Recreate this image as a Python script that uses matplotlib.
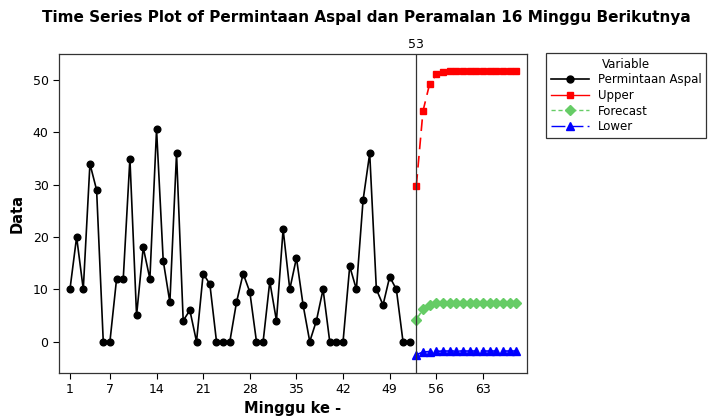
import numpy as np
import matplotlib.pyplot as plt
from matplotlib.lines import Line2D

# ---- Data ----
weeks = list(range(1, 53))
permintaan = [10, 20, 10, 34, 29, 0, 0, 12, 12, 35,
              5, 18, 12, 40.6, 15.5, 7.5, 36, 4, 6, 0,
              13, 11, 0, 0, 0, 7.5, 13, 9.5, 0, 0,
              11.5, 4, 21.5, 10, 16, 7, 0, 4, 10, 0,
              0, 0, 14.4, 10, 27, 36, 10, 7, 12.4, 10,
              0, 0]
fc_weeks = list(range(53, 69))
upper = [29.8, 44.1, 49.3, 51.1, 51.5] + [51.7] * 11
forecast = [4.2, 6.2, 7.0, 7.3, 7.4] + [7.45] * 11
lower = [-2.5, -2.0, -1.9, -1.85, -1.8] + [-1.8] * 11
x_ticks = [1, 7, 14, 21, 28, 35, 42, 49, 56, 63]
y_ticks = [0, 10, 20, 30, 40, 50]
origin = 53

GREEN = "#66cc66"


def main():
    fig = plt.figure(figsize=(7.13, 4.16), dpi=100)
    ax = fig.add_axes([0.0827, 0.1034, 0.6563, 0.7668])

    ax.plot(weeks, permintaan, color="black", lw=1.2, marker="o", ms=4.8,
            label="Permintaan Aspal")
    ax.plot(fc_weeks, upper, color="red", lw=1.2, dashes=(7, 4), marker="s",
            ms=5, label="Upper")
    ax.plot(fc_weeks, forecast, color=GREEN, lw=1.2, dashes=(5, 3), marker="D",
            ms=4.8, label="Forecast")
    ax.plot(fc_weeks, lower, color="blue", lw=1.2, dashes=(10, 3), marker="^",
            ms=5.5, label="Lower")

    ax.axvline(origin, color="#333333", lw=0.9)
    ax.text(origin, 55.6, str(origin), ha="center", va="bottom", fontsize=9)

    ax.set_xlim(-0.65, 69.6)
    ax.set_ylim(-6, 55)
    ax.set_xticks(x_ticks)
    ax.set_yticks(y_ticks)
    ax.tick_params(direction="out", length=4, width=0.8, labelsize=9,
                   top=False, right=False)
    for s in ax.spines.values():
        s.set_linewidth(0.9)
        s.set_color("#333333")

    ax.set_xlabel("Minggu ke -", fontsize=10.5, fontweight="bold", labelpad=3)
    ax.set_ylabel("Data", fontsize=10.5, fontweight="bold", labelpad=6)
    fig.suptitle("Time Series Plot of Permintaan Aspal dan Peramalan 16 Minggu Berikutnya",
                 x=0.514, y=0.975, fontsize=11, fontweight="bold")

    handles = [
        Line2D([], [], color="black", lw=1.2, marker="o", ms=5),
        Line2D([], [], color="red", lw=1.0, marker="s", ms=5),
        Line2D([], [], color=GREEN, lw=1.0, dashes=(3, 2), marker="D", ms=5),
        Line2D([], [], color="blue", lw=1.0, dashes=(10, 3), marker="^", ms=5.5),
    ]
    labels = ["Permintaan Aspal", "Upper", "Forecast", "Lower"]
    leg = fig.legend(handles, labels, title="Variable", loc="upper left",
                     bbox_to_anchor=(546 / 713, 1 - 53 / 416), fontsize=8.5,
                     title_fontsize=8.5, frameon=True, fancybox=False,
                     edgecolor="black", handlelength=3.2, handletextpad=0.8,
                     labelspacing=0.22, borderpad=0.4, borderaxespad=0)
    leg.get_frame().set_linewidth(0.9)

    plt.savefig("out.png", dpi=100)


if __name__ == "__main__":
    main()
